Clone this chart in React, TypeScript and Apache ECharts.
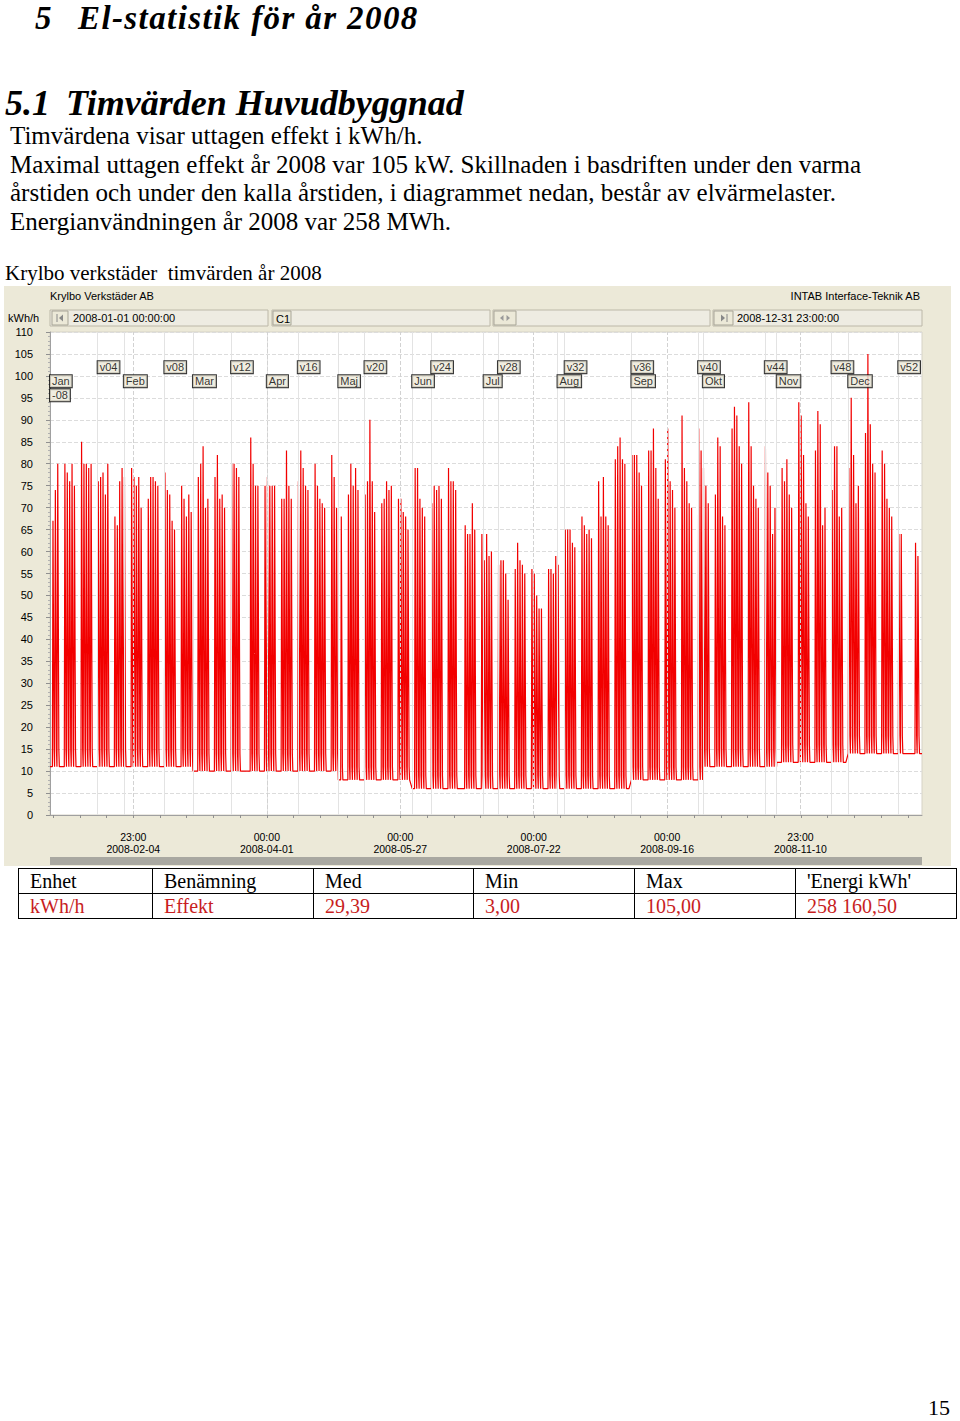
import React, { useEffect, useRef } from "react";
import * as echarts from "echarts";

// Daily day-shift peaks (kWh/h); 0 = weekend / holiday (no peak)
const janPeak = [0, 67, 74, 80, 0, 0, 80, 78, 76, 80, 75, 0, 0, 85, 80, 80, 79, 80, 0, 0, 76, 77, 78, 73, 80, 0, 0, 68, 66, 76, 79];
const febPeak = [77, 0, 0, 79, 77, 75, 77, 70, 0, 0, 72, 77, 77, 76, 75, 0, 0, 78, 74, 73, 67, 65, 0, 0, 75, 72, 68, 73, 69];
const marPeak = [0, 0, 77, 80, 84, 70, 72, 0, 0, 77, 82, 72, 73, 70, 0, 0, 80, 80, 79, 77, 0, 0, 0, 0, 86, 80, 75, 75, 0, 0, 75];
const aprPeak = [77, 75, 75, 75, 0, 0, 72, 72, 83, 75, 72, 0, 0, 76, 83, 79, 75, 74, 0, 0, 80, 75, 72, 71, 70, 0, 0, 82, 77, 70];
const mayPeak = [0, 68, 0, 0, 73, 80, 75, 79, 74, 0, 0, 73, 76, 90, 76, 69, 0, 0, 71, 72, 76, 74, 75, 0, 0, 72, 72, 69, 68, 65, 0];
const junPeak = [0, 79, 79, 72, 70, 68, 0, 0, 71, 75, 74, 75, 72, 0, 0, 79, 76, 76, 74, 0, 0, 0, 66, 64, 64, 71, 65, 0, 0, 64];
const julPeak = [58, 64, 59, 60, 0, 0, 57, 58, 58, 55, 49, 0, 0, 56, 62, 58, 57, 55, 0, 0, 56, 55, 50, 47, 47, 0, 0, 56, 56, 55, 59];
const augPeak = [57, 0, 0, 65, 65, 65, 62, 61, 0, 0, 68, 66, 64, 65, 63, 0, 0, 76, 68, 77, 68, 66, 0, 0, 81, 84, 86, 81, 80, 0, 0];
const sepPeak = [82, 82, 82, 78, 75, 0, 0, 83, 83, 88, 79, 72, 0, 0, 81, 88, 76, 74, 70, 0, 0, 91, 79, 76, 71, 70, 0, 0, 88, 83];
const octPeak = [79, 75, 71, 0, 0, 73, 86, 84, 68, 66, 0, 0, 88, 93, 91, 84, 80, 0, 0, 94, 84, 75, 72, 70, 0, 0, 84, 78, 75, 64, 70];
const novPeak = [0, 0, 79, 76, 81, 73, 70, 0, 0, 94, 91, 82, 71, 68, 0, 0, 83, 92, 89, 66, 70, 0, 0, 74, 84, 84, 68, 70, 0, 0];
const decPeak = [79, 95, 82, 71, 75, 0, 0, 87, 105, 89, 80, 78, 0, 0, 83, 80, 72, 70, 68, 0, 0, 64, 64, 0, 0, 0, 0, 0, 62, 59, 0];

// Night / weekend base load per month (kWh/h)
const monthBase = [11, 11, 10, 10, 8, 6, 6, 6, 8, 11, 12, 14];
// Evening level after the day shift per month (kWh/h)
const monthEvening = [15, 15, 14, 14, 11, 9, 9, 9, 11, 15, 16, 18];

const monthLabels = ["Jan", "Feb", "Mar", "Apr", "Maj", "Jun", "Jul", "Aug", "Sep", "Okt", "Nov", "Dec"];
const weekLabels = ["v04", "v08", "v12", "v16", "v20", "v24", "v28", "v32", "v36", "v40", "v44", "v48", "v52"];
const weekStarts = ["2008-01-21", "2008-02-18", "2008-03-17", "2008-04-14", "2008-05-12", "2008-06-09", "2008-07-07", "2008-08-04", "2008-09-01", "2008-09-29", "2008-10-27", "2008-11-24", "2008-12-22"];
const axisLabelTimes = ["2008-02-04 23:00", "2008-04-01 00:00", "2008-05-27 00:00", "2008-07-22 00:00", "2008-09-16 00:00", "2008-11-10 23:00"];

const T0 = Date.UTC(2008, 0, 1);
const LAST_HOUR = 8783;

function hourOf(s: string): number {
  const [d, t = "00:00"] = s.split(" ");
  const [Y, M, D] = d.split("-").map(Number);
  const [h, mi] = t.split(":").map(Number);
  return (Date.UTC(Y, M - 1, D, h, mi) - T0) / 3600000;
}
const pad = (n: number) => (n < 10 ? "0" + n : "" + n);

const monthPeaks = [janPeak, febPeak, marPeak, aprPeak, mayPeak, junPeak, julPeak, augPeak, sepPeak, octPeak, novPeak, decPeak];

function buildSeries(): number[][] {
  const out: number[][] = [];
  let day = 0;
  monthPeaks.forEach((arr, m) => {
    const b = monthBase[m];
    const eve = monthEvening[m];
    arr.forEach((p) => {
      const h0 = day * 24;
      out.push([h0, b]);
      if (p > 0) {
        out.push([h0 + 5, b], [h0 + 6, p], [h0 + 17, eve], [h0 + 21, eve], [h0 + 22, b]);
      }
      day++;
    });
  });
  out.push([LAST_HOUR, monthBase[11]]);
  return out;
}

const UI = "'Liberation Sans', Arial, sans-serif";
const SERIF = "'Liberation Serif', 'Times New Roman', serif";

function App() {
  const ref = useRef<HTMLDivElement>(null);

  useEffect(() => {
    if (!ref.current) return;
    const chart = echarts.init(ref.current, null, { renderer: "svg" });
    const labelHours = axisLabelTimes.map(hourOf);
    const step = (labelHours[1] - labelHours[0]) / 5;
    const tickHours: number[] = [];
    for (let t = labelHours[0] - 3 * step; t <= LAST_HOUR; t += step) if (t >= 0) tickHours.push(t);
    const monthStartHours = monthLabels.map((_, m) => (Date.UTC(2008, m, 1) - T0) / 3600000);

    const boxLabel = {
      show: true,
      position: "right",
      distance: 0,
      formatter: "{b}",
      color: "#000",
      fontFamily: UI,
      fontSize: 11,
      lineHeight: 11,
      backgroundColor: "#ECE9D8",
      borderColor: "#000",
      borderWidth: 1,
      padding: [1, 2, 0, 2],
    };

    const sunkenBox = (x: number, w: number) => ({
      type: "rect",
      silent: true,
      z: -5,
      shape: { x, y: 310, width: w, height: 16 },
      style: { fill: "#EEECE2", stroke: "#BCB8A8", lineWidth: 1 },
    });
    const btn = (x: number, w: number) => ({
      type: "rect",
      silent: true,
      z: -4,
      shape: { x, y: 311, width: w, height: 14 },
      style: { fill: "#ECE9D8", stroke: "#A8A597", lineWidth: 1 },
    });
    const uiText = (text: string, x: number, y: number, align = "left", color = "#000") => ({
      type: "text",
      silent: true,
      z: 5,
      x,
      y,
      style: { text, fill: color, font: `11px ${UI}`, textAlign: align, textVerticalAlign: "middle", align, verticalAlign: "middle" },
    });

    const graphic: any[] = [
      { type: "rect", silent: true, z: -10, shape: { x: 4, y: 286, width: 947, height: 580 }, style: { fill: "#ECE9D8" } },
      { type: "rect", silent: true, z: -9, shape: { x: 50, y: 332, width: 872, height: 483 }, style: { fill: "#FFFFFF", stroke: "#D6D3C6", lineWidth: 1 } },
      { type: "rect", silent: true, z: -9, shape: { x: 50, y: 857, width: 872, height: 8 }, style: { fill: "#A9A8A1" } },
      uiText("Krylbo Verkstäder AB", 50, 296),
      uiText("INTAB Interface-Teknik AB", 920, 296, "right"),
      uiText("kWh/h", 8, 318),
      sunkenBox(50, 218),
      sunkenBox(272, 218),
      sunkenBox(493, 217),
      sunkenBox(713, 209),
      btn(52, 16),
      btn(273, 18),
      btn(494, 22),
      btn(714, 19),
      { type: "line", silent: true, z: 5, shape: { x1: 57, y1: 314, x2: 57, y2: 322 }, style: { stroke: "#888", lineWidth: 1 } },
      { type: "polygon", silent: true, z: 5, shape: { points: [[59, 318], [63, 314.5], [63, 321.5]] }, style: { fill: "#888" } },
      uiText("2008-01-01 00:00:00", 73, 318),
      uiText("C1", 276, 319),
      { type: "polygon", silent: true, z: 5, shape: { points: [[500, 318], [503.5, 315], [503.5, 321]] }, style: { fill: "#999" } },
      { type: "polygon", silent: true, z: 5, shape: { points: [[510, 318], [506.5, 315], [506.5, 321]] }, style: { fill: "#999" } },
      { type: "polygon", silent: true, z: 5, shape: { points: [[725, 318], [721, 314.5], [721, 321.5]] }, style: { fill: "#888" } },
      { type: "line", silent: true, z: 5, shape: { x1: 727, y1: 314, x2: 727, y2: 322 }, style: { stroke: "#888", lineWidth: 1 } },
      uiText("2008-12-31 23:00:00", 737, 318),
    ];

    const gridLines = [
      ...weekStarts.map((s) => ({ xAxis: hourOf(s), lineStyle: { type: "solid", color: "#E3E3E3", width: 1 } })),
      ...monthStartHours.slice(1).map((h) => ({ xAxis: h, lineStyle: { type: "solid", color: "#E3E3E3", width: 1 } })),
      ...labelHours.map((h) => ({ xAxis: h, lineStyle: { type: "dashed", color: "#D2D2D2", width: 1 } })),
    ];

    const option: any = {
      animation: false,
      backgroundColor: "transparent",
      graphic,
      grid: { left: 50, top: 332, width: 872, height: 483, containLabel: false },
      xAxis: {
        type: "value",
        min: 0,
        max: LAST_HOUR,
        offset: 9,
        axisLine: { show: true, lineStyle: { color: "#A0A0A0", width: 1 } },
        axisTick: { show: true, customValues: tickHours, length: 3, lineStyle: { color: "#909090" } },
        splitLine: { show: false },
        axisLabel: {
          customValues: labelHours,
          margin: 7,
          fontSize: 10.5,
          lineHeight: 12,
          fontFamily: UI,
          color: "#000",
          formatter: (v: number) => {
            const d = new Date(T0 + Math.round(v) * 3600000);
            return `${pad(d.getUTCHours())}:${pad(d.getUTCMinutes())}\n${d.getUTCFullYear()}-${pad(d.getUTCMonth() + 1)}-${pad(d.getUTCDate())}`;
          },
        },
      },
      yAxis: {
        type: "value",
        min: 0,
        max: 110,
        interval: 5,
        offset: 9,
        axisLine: { show: true, lineStyle: { color: "#A0A0A0" } },
        axisTick: { show: true, length: 4, lineStyle: { color: "#909090" } },
        minorTick: { show: true, splitNumber: 5, length: 2, lineStyle: { color: "#B0B0B0" } },
        splitLine: { show: true, lineStyle: { type: "dashed", color: "#DCDCDC", width: 1 } },
        axisLabel: { margin: 8, fontSize: 11, fontFamily: UI, color: "#000" },
      },
      series: [
        {
          type: "line",
          z: 1,
          data: [[0, null]],
          showSymbol: false,
          lineStyle: { opacity: 0 },
          markLine: { silent: true, symbol: ["none", "none"], label: { show: false }, data: gridLines },
        },
        {
          name: "Effekt",
          type: "line",
          z: 3,
          data: buildSeries(),
          showSymbol: false,
          symbol: "none",
          lineStyle: { color: "#F20000", width: 1.2 },
        },
        {
          type: "scatter",
          z: 6,
          symbolSize: 0,
          label: boxLabel,
          data: [
            ...weekLabels.map((n, i) => ({ name: n, value: [hourOf(weekStarts[i]), 102] })),
            ...monthLabels.map((n, m) => ({ name: n, value: [monthStartHours[m], 98.8] })),
            { name: "-08", value: [0, 95.6] },
          ],
        },
      ],
    };
    chart.setOption(option);
    return () => chart.dispose();
  }, []);

  // with line-height L, baseline sits at top + ((L - 1.107) / 2 + 0.891) * size
  const line = (text: string, baseline: number, left: number, size: number, lh: number, extra: any = {}) => (
    <div
      style={{
        position: "absolute",
        left,
        top: baseline - ((lh - 1.107) / 2 + 0.891) * size,
        fontFamily: SERIF,
        fontSize: size,
        lineHeight: String(lh),
        whiteSpace: "pre",
        color: "#000",
        zIndex: 2,
        ...extra,
      }}
    >
      {text}
    </div>
  );

  const headCells = ["Enhet", "Benämning", "Med", "Min", "Max", "'Energi kWh'"];
  const valCells = ["kWh/h", "Effekt", "29,39", "3,00", "105,00", "258 160,50"];
  const colW = [134, 161, 160, 161, 161, 161];
  const cell = (c: string, i: number, color: string) => (
    <td
      key={i}
      style={{
        width: colW[i],
        border: "1px solid #000",
        padding: "0 0 0 11px",
        height: 24,
        lineHeight: "24px",
        color,
        boxSizing: "border-box",
      }}
    >
      {c}
    </td>
  );

  const bi = { fontWeight: "bold", fontStyle: "italic" };
  const H1 = 33;
  const H2 = 36;
  const BODY = 25;

  return (
    <div style={{ position: "absolute", left: 0, top: 0, width: 960, height: 1421, background: "#fff", overflow: "hidden" }}>
      <div ref={ref} style={{ position: "absolute", left: 0, top: 0, width: 960, height: 1421, zIndex: 1 }} />
      {line("5", 29.5, 35, H1, 1.107, bi)}
      {line("El-statistik för år 2008", 29.5, 78, H1, 1.107, { ...bi, letterSpacing: "1.4px" })}
      {line("5.1", 116, 5, H2, 1.107, bi)}
      {line("Timvärden Huvudbyggnad", 116, 66, H2, 1.107, bi)}
      {line("Timvärdena visar uttagen effekt i kWh/h.", 145, 10, BODY, 1.15)}
      {line("Maximal uttagen effekt år 2008 var 105 kW. Skillnaden i basdriften under den varma", 174, 10, BODY, 1.15)}
      {line("årstiden och under den kalla årstiden, i diagrammet nedan, består av elvärmelaster.", 202, 10, BODY, 1.15)}
      {line("Energianvändningen år 2008 var 258 MWh.", 231, 10, BODY, 1.15)}
      {line("Krylbo verkstäder  timvärden år 2008", 280, 5, 21, 1.15)}
      <table
        style={{
          position: "absolute",
          left: 18,
          top: 868,
          width: 938,
          borderCollapse: "collapse",
          border: "1.5px solid #000",
          fontFamily: SERIF,
          fontSize: 20,
          zIndex: 2,
          background: "#fff",
          tableLayout: "fixed",
        }}
      >
        <tbody>
          <tr>{headCells.map((c, i) => cell(c, i, "#000"))}</tr>
          <tr>{valCells.map((c, i) => cell(c, i, "#C81E1E"))}</tr>
        </tbody>
      </table>
      {line("15", 1416, 928, 22, 1.107)}
    </div>
  );
}

export default App;
